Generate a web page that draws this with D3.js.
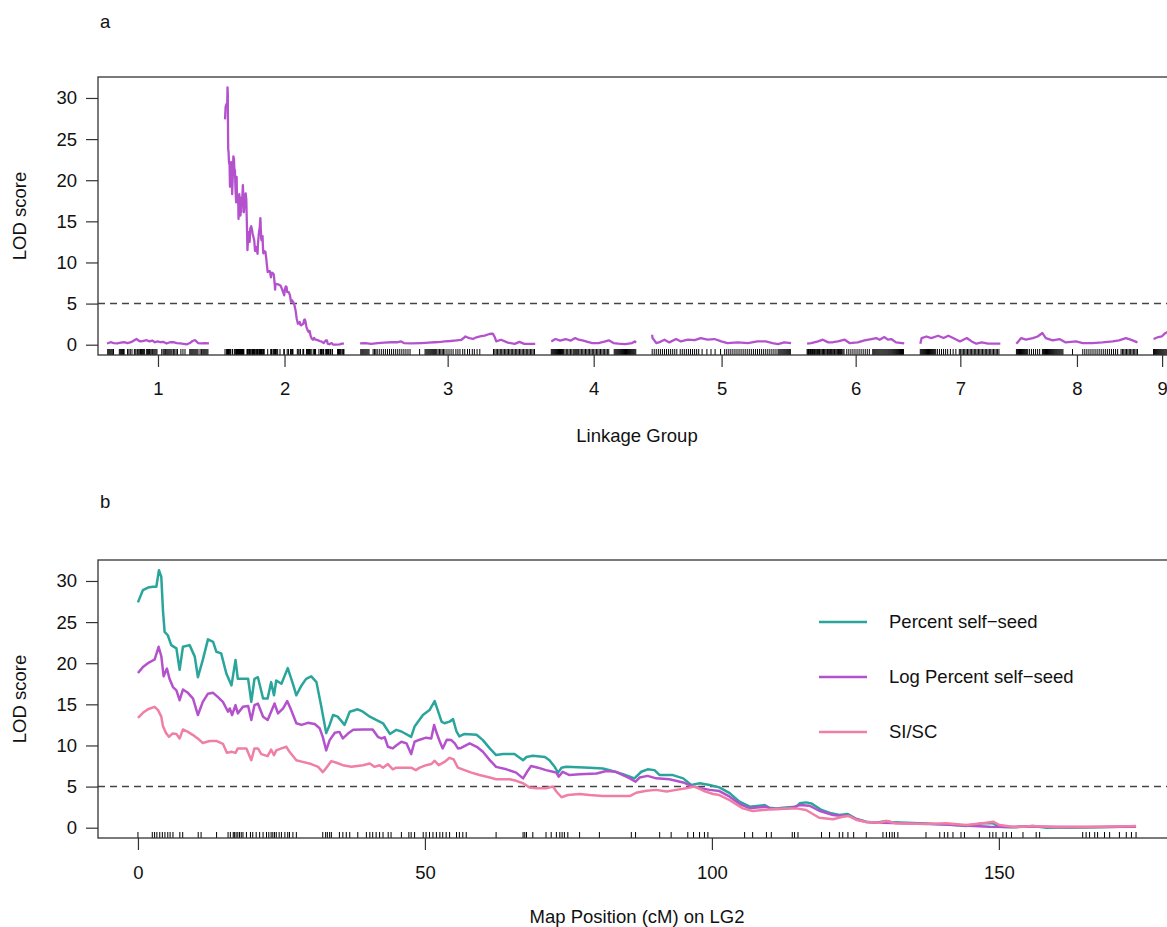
<!DOCTYPE html>
<html><head><meta charset="utf-8">
<script src="https://cdn.jsdelivr.net/npm/d3@7"></script>
<style>
body{margin:0;background:#fff}
text{font-family:"Liberation Sans",Arial,Helvetica,sans-serif;fill:#111}
</style>
</head><body>
<svg id="c" width="1167" height="927"></svg>
<script>
// ---------- DATA ----------
const chrNames = ["1","2","3","4","5","6","7","8","9"];
const chrLen = [149,174,256,124,203,142,117,177,25];
const chrGap = 23.5;
const yTicks = [0,5,10,15,20,25,30];
const xTicksB = [0,50,100,150];
const threshold = 5;
const seriesNames = ["Percent self\u2212seed","Log Percent self\u2212seed","SI/SC"];
const seriesColors = ["#2aa59b","#b452cd","#f07fa6"];

// LG2 scans (cM, LOD)
const selfSeed = [[0,27.4],[0.87,28.9],[1.74,29.2],[2.6,29.3],[3.2,29.3],[3.66,31.3],[4.07,30.5],[4.36,26.4],[4.65,23.8],[5.2,23.4],[5.8,22.2],[6.7,21.8],[7.26,19.2],[7.84,22.0],[9.0,22.2],[9.9,20.8],[10.45,18.3],[11.3,20.4],[12.2,22.9],[13.1,22.6],[13.65,21.4],[14.5,21.2],[15.4,18.75],[16.3,17.3],[17.0,20.4],[17.4,18.1],[19.2,18.1],[19.75,15.3],[20.3,18.1],[20.9,18.3],[21.8,15.7],[22.6,15.7],[23.2,17.7],[23.7,16.1],[24.1,17.9],[25.0,17.5],[26.1,19.4],[27.0,17.5],[27.6,16.1],[28.5,17.3],[29.3,18.1],[30.2,18.4],[31.1,17.7],[31.95,14.7],[32.8,11.5],[33.4,12.5],[34.0,13.7],[34.8,13.5],[36.0,12.5],[36.9,14.1],[38.3,14.4],[39.2,14.1],[40.4,13.5],[41.5,13.1],[42.7,12.7],[43.9,11.4],[45.0,11.9],[45.9,11.7],[47.6,11.05],[48.2,12.3],[49.65,13.7],[50.8,14.3],[51.7,15.4],[52.9,12.9],[53.4,12.7],[54.3,12.9],[54.9,13.2],[55.5,11.7],[56.0,11.1],[56.9,11.4],[59.0,11.3],[60.1,10.65],[61.3,9.64],[62.4,8.83],[63.6,8.95],[65.6,8.95],[67.1,8.2],[67.7,8.6],[68.8,8.75],[70.9,8.6],[71.7,8.2],[72.6,7.4],[73.2,6.7],[73.8,7.3],[74.6,7.4],[78.7,7.3],[81.0,7.2],[82.2,7.0],[84.5,6.5],[85.7,6.2],[86.5,6.0],[87.7,6.8],[88.8,7.1],[90.0,7.0],[90.9,6.4],[93.2,6.4],[95.0,6.0],[96.4,5.2],[97.9,5.4],[99.6,5.2],[101.3,4.9],[103.1,4.2],[104.8,3.16],[106.6,2.55],[109.2,2.75],[110.0,2.43],[111.2,2.35],[112.9,2.47],[114.7,2.55],[115.3,2.96],[116.4,3.08],[117.3,2.96],[119.1,2.15],[120.8,1.75],[122.2,1.54],[123.7,1.66],[125.2,1.06],[126.9,0.73],[128.6,0.6],[130.4,0.81],[131.5,0.65],[133.9,0.6],[136.2,0.53],[138.5,0.45],[140.8,0.41],[144.3,0.2],[147.2,0.53],[149,0.53],[150.1,0.12],[152.4,0.05],[155.9,0.2],[158.3,0.0],[161.7,0.0],[167.5,0.05],[171,0.12],[173.9,0.12]];

const logSelfSeed = [[0,18.8],[0.87,19.55],[1.74,20.0],[2.9,20.45],[3.6,22.0],[4.07,20.85],[4.48,18.4],[5.05,19.35],[5.5,18.1],[6.1,17.1],[6.7,16.7],[7.26,15.5],[7.84,16.8],[8.7,16.4],[9.6,15.7],[10.45,13.7],[11.3,15.3],[12.2,16.3],[13.1,16.4],[13.9,15.9],[14.8,15.3],[15.7,14.1],[16.0,14.5],[16.4,13.7],[17.0,14.9],[17.4,13.9],[18.3,14.7],[19.2,14.8],[19.75,13.1],[20.3,14.9],[20.9,15.1],[21.8,13.5],[22.6,13.1],[23.2,14.1],[23.8,15.1],[24.4,13.9],[25.3,14.5],[26.0,15.4],[26.7,14.3],[27.6,12.7],[28.5,12.5],[29.6,12.75],[30.8,12.6],[31.65,12.1],[32.2,11.05],[32.8,9.4],[33.4,10.65],[34.3,11.55],[35.1,11.65],[35.7,10.85],[36.6,11.45],[37.5,11.9],[39.2,11.95],[40.9,11.95],[41.8,11.05],[42.4,10.85],[43.0,11.0],[43.55,9.84],[44.4,9.64],[45.0,10.0],[45.9,10.45],[46.8,10.25],[47.6,8.95],[48.2,10.45],[49.1,10.7],[50.2,10.95],[51.1,10.85],[51.6,12.5],[52.0,11.6],[52.6,10.45],[53.1,9.64],[53.8,10.7],[54.6,10.65],[55.2,10.25],[55.75,9.64],[56.3,9.7],[57.8,10.25],[59.2,9.76],[60.1,9.23],[61.3,8.22],[62.4,7.4],[64.2,7.1],[65.9,6.7],[67.1,6.0],[67.8,6.8],[68.5,7.5],[69.7,7.3],[71.1,7.0],[72.3,6.8],[72.9,6.7],[73.3,6.2],[74.0,6.8],[75.2,6.4],[76.95,6.5],[79.9,6.6],[81.6,6.9],[83.3,6.8],[84.5,6.4],[85.7,6.0],[86.7,5.6],[87.4,6.1],[88.8,6.3],[90.3,6.0],[92.6,5.9],[95.0,5.5],[96.7,5.0],[98.5,4.75],[99.6,4.6],[101.3,4.45],[103.1,3.77],[104.8,2.9],[106.6,2.35],[107.8,2.45],[109.5,2.55],[110.35,2.27],[111.8,2.27],[113.5,2.35],[115.3,2.75],[117.0,2.67],[118.7,2.06],[121.1,1.54],[122.8,1.42],[123.7,1.5],[125.2,1.02],[126.9,0.69],[129.8,0.6],[133,0.55],[138.5,0.45],[143,0.3],[148.4,0.12],[152,0.1],[158,0.12],[165,0.1],[173.9,0.12]];

const siSc = [[0,13.36],[0.87,13.97],[1.74,14.4],[2.9,14.7],[3.5,14.3],[4.07,13.5],[4.36,12.35],[4.9,11.5],[5.4,11.05],[6.0,11.45],[6.7,11.4],[7.26,10.85],[7.84,11.95],[8.7,11.65],[9.6,11.26],[10.75,10.65],[11.3,10.3],[12.5,10.55],[13.65,10.55],[14.8,10.2],[15.5,9.1],[16.3,9.23],[17.0,9.1],[17.4,9.64],[18.9,9.64],[19.75,8.2],[20.3,9.64],[20.9,9.64],[21.5,8.95],[22.6,8.7],[23.2,9.5],[23.7,8.83],[24.1,9.4],[25.0,9.64],[25.85,9.84],[26.4,9.23],[27.6,8.2],[28.7,8.0],[30.2,7.74],[31.4,7.4],[32.2,6.76],[32.5,7.0],[33.7,8.1],[34.6,7.9],[35.7,7.6],[37.2,7.4],[39.2,7.6],[40.4,7.8],[41.2,7.4],[42.1,7.6],[42.7,7.3],[43.55,7.74],[44.4,7.1],[45.0,7.3],[46.5,7.3],[47.6,7.3],[48.4,7.0],[49.1,7.3],[50.2,7.6],[51.1,7.74],[51.7,8.14],[52.4,7.6],[53.4,8.0],[54.3,8.5],[55.0,8.3],[55.75,7.3],[56.9,7.0],[58.1,6.7],[59.5,6.4],[61.3,6.1],[62.4,5.9],[64.8,5.9],[65.9,5.7],[67.1,5.4],[68.2,4.9],[69.4,4.8],[71.1,4.8],[72.3,5.0],[72.9,4.4],[73.8,3.7],[74.9,3.97],[76.95,4.1],[78.7,3.97],[81.0,3.85],[85.7,3.85],[86.8,4.25],[88.6,4.5],[90.3,4.6],[92.1,4.4],[93.8,4.6],[95.5,4.8],[97.0,5.0],[98.5,4.5],[100.2,4.1],[101.3,3.97],[103.1,3.36],[105.4,2.35],[107.1,2.03],[108.9,2.15],[110.6,2.23],[112.9,2.35],[114.7,2.35],[116.4,2.15],[118.7,1.21],[121.1,1.02],[122.8,1.34],[123.9,1.42],[125.2,0.94],[126.9,0.69],[129.2,0.6],[130.4,0.81],[132,0.55],[137.3,0.45],[140.8,0.53],[144.3,0.33],[147.2,0.53],[149,0.73],[150.1,0.33],[153,0.05],[155.9,0.2],[160,0.05],[167.5,0.12],[171,0.15],[173.9,0.2]];

// genome scan (panel a), other linkage groups (cM, LOD)
const lg1Lod = [[0,0.15],[5,0.3],[10,0.2],[15,0.15],[20,0.25],[25,0.3],[30,0.2],[35,0.3],[40,0.55],[43,0.7],[47,0.45],[50,0.4],[55,0.5],[58,0.55],[62,0.4],[66,0.5],[70,0.3],[74,0.4],[78,0.3],[82,0.35],[87,0.15],[92,0.3],[97,0.3],[102,0.2],[107,0.15],[112,0.1],[117,0.05],[121,0.2],[125,0.45],[129,0.55],[133,0.2],[138,0.15],[143,0.2],[149,0.15]];
const lg3Lod = [[0,0.15],[8,0.2],[16,0.1],[26,0.2],[35,0.25],[46,0.3],[55,0.3],[60,0.4],[64,0.2],[75,0.15],[90,0.2],[100,0.25],[109,0.3],[118,0.35],[124,0.4],[132,0.45],[138,0.5],[148,0.6],[152,0.85],[154,1.0],[158,0.85],[160,0.8],[165,0.7],[170,0.9],[177,1.05],[182,1.1],[189,1.3],[194,1.35],[197,0.9],[199,0.4],[206,0.6],[216,0.25],[226,0.1],[233,0.35],[240,0.1],[256,0.1]];
const lg4Lod = [[0,0.4],[6,0.69],[13,0.49],[21,0.69],[28,0.49],[35,0.81],[40,0.61],[47,0.49],[53,0.35],[60,0.2],[69,0.2],[79,0.4],[84,0.53],[91,0.2],[98,0.12],[108,0.08],[118,0.2],[122,0.4],[124,0.25]];
const lg5Lod = [[0,1.21],[0.5,0.81],[6,0.2],[12,0.35],[18,0.61],[25,0.28],[35,0.69],[42,0.4],[52,0.61],[62,0.55],[71,0.81],[81,0.61],[91,0.69],[101,0.4],[110,0.2],[125,0.28],[140,0.2],[154,0.4],[166,0.4],[176,0.2],[184,0.08],[193,0.28],[203,0.2]];
const lg6Lod = [[0,0.12],[6,0.2],[16,0.4],[23,0.61],[31,0.28],[38,0.3],[45,0.4],[55,0.61],[62,0.2],[74,0.28],[84,0.53],[94,0.69],[101,0.81],[106,0.6],[113,0.93],[118,0.61],[123,0.69],[130,0.28],[139,0.2],[142,0.15]];
const lg7Lod = [[0,0.12],[2,0.81],[9,1.0],[16,0.81],[26,1.09],[34,0.81],[41,1.09],[48,0.81],[58,0.4],[68,0.81],[75,0.4],[82,0.12],[90,0.28],[99,0.12],[117,0.12]];
const lg8Lod = [[0,0.12],[7,0.81],[14,0.61],[24,0.81],[31,1.0],[38,1.42],[43,0.81],[53,0.53],[63,0.69],[72,0.28],[87,0.4],[97,0.2],[111,0.2],[126,0.28],[141,0.4],[150,0.53],[160,0.81],[167,0.61],[177,0.28]];
const lg9Lod = [[0,0.7],[7,0.93],[12,1.0],[17,1.4],[22,1.6],[25,1.5]];

// marker positions (cM)
const lg1Mk = [1,2.5,4,5.5,7,8.5,9.5,18,19.5,21,22.5,24,25,30,32,34,36.5,40,42,44,45,46.5,48,49,50.5,52,53.5,55,58,59,60.5,62,63,64.5,66,67,68.5,70,71.5,73,80,82,83.5,85,86,87.5,89,90.5,92,93.5,95,97,99,101,103,108,111,114,121,122.5,124,125.5,127,128.5,130,131.5,133,136,138,140,141.5,143,144.5,146,147.5];
const lg2Mk = [0,2.5,2.9,3.3,3.8,4.25,4.7,5.2,5.6,6.1,7.3,7.8,10.5,11.0,13.7,15.7,16.1,16.6,16.8,17.1,17.4,17.7,18.0,18.3,18.9,19.6,20.0,20.6,21.2,21.8,22.4,22.8,23.2,23.5,23.8,24.1,24.6,25.0,25.6,26.1,26.4,27.0,27.6,32.2,32.7,33.0,33.4,33.7,35.1,35.7,36.3,36.9,38.3,39.8,40.4,40.9,41.5,42.1,42.7,43.6,44.1,45.9,47.2,47.6,48.2,49.7,50.2,50.8,51.4,52.0,52.6,53.1,53.7,54.3,55.5,56.0,56.6,57.2,62.4,67.1,67.4,67.7,68.8,71.1,72.0,72.9,73.5,73.9,74.3,74.9,76.95,80.4,85.96,86.7,90.9,92.9,95.8,96.8,97.85,98.7,99.3,105.7,107.1,109.5,110.35,114.0,114.4,115.0,119.1,120.5,122.2,122.8,123.7,124.7,126.9,129.8,130.4,130.95,131.4,131.8,132.4,137.3,139.7,140.5,141.1,142.0,143.4,144.0,146.6,148.4,148.95,149.5,150.7,151.3,152.2,154.2,156.5,157.1,164.6,165.2,165.8,166.7,167.2,168.4,169.3,171.0,172.2,173.1,173.9];
const lg3Mk = [1,2.5,4,5.5,7,8.5,10,11.5,13,19,21,23,25,28,31,34,37,40,43,46,49,52,55,58,61,64,67,70,73,87,95,96.5,98,99.5,101,102.5,104,105.5,107,108.5,110,112,114,116,118,120,122,124,127,130,133,136,140,143,146,150,153,157,160,164,167,171,175,195,197,199,201,203,205,207,209,211,213,215,217,219,221,223,225,227,229,231,233,235,237,239,241,243,245,247,249,251,253,255];
const lg4Mk = [0,1.5,3,4.5,6,7.5,9,10.5,12,13.5,15,16.5,18,20,22,24,26,28,30,32,33.5,35,36.5,38,40,42,44,46,48,50,52,54,56,58,60,62,64,66,68,70,72,74,76,78,80,82,84,92,93.5,95,96.5,98,99.5,101,102.5,104,105.5,107,108.5,110,111.5,113,114.5,116,117.5,119,120.5,122,123.5];
const lg5Mk = [0,3,6,9,12,15,18,21,24,27,30,33,36,41,44,47,50,53,56,59,62,65,68,73,80,86,92,100,106,109,112,115,118,121,124,127,130,133,136,139,142,145,148,151,154,157,160,163,166,169,172,175,178,181,184,185.5,187,188.5,190,191.5,193,194.5,196,197.5,199,200.5,202];
const lg6Mk = [0,1,2,3,4,5,6,7,8,9,10,11,12,13.5,15,16,17,18,19,20.5,22,23,24,25,26,27.5,29,30,31,32.5,34,35,36,37.5,39,40,41,42.5,44,45,46,47.5,49,50,51,52.5,54,58,61,64,67,70,73,76,79,82,85,88,91,96,97.5,99,100.5,102,103.5,105,106.5,108,109.5,111,112.5,114,115.5,117,118.5,120,121.5,123,124.5,126,127.5,129,130.5,132,133.5,135,136.5,138,139.5,141];
const lg7Mk = [0,1.5,3,4.5,6,7.5,9,10.5,12,13.5,15,16.5,18,19.5,21,22.5,25,28,31,34,37,40,44,48,52,57,59,61,63,65,67,69,71,73,75,77,79,81,83,85,87,89,91,93,95,97,99,101,103,105,107,109,111,113,115];
const lg8Mk = [0,1.5,3,4.5,6,7.5,9,10.5,12,13.5,15,16.5,19,22,25,28,31,34,38,39.5,41,42.5,44,45.5,47,48.5,50,51.5,53,54.5,56,57.5,59,60.5,62,63.5,65,66.5,68,82,97,100,103,106,109,112,115,118,121,124,127,130,133,136,139,142,145,148,153,155,157,159,161,163,165,167,169,171,173,175,177];
const lg9Mk = [0,1.5,3,4.5,6,7.5,9,10.5,12,13.5,15,16.5,18,19.5,21,22.5,24];

const genomeLod = [lg1Lod, selfSeed, lg3Lod, lg4Lod, lg5Lod, lg6Lod, lg7Lod, lg8Lod, lg9Lod];
const genomeMk = [lg1Mk, lg2Mk, lg3Mk, lg4Mk, lg5Mk, lg6Mk, lg7Mk, lg8Mk, lg9Mk];
const lg2Series = [selfSeed, logSelfSeed, siSc];

// ---------- DRAW ----------
const svg = d3.select("#c");
const FS = 18.5;
const ink = "#333";
const yDom = [-1.252, 32.55];

function yAxis(g, y) {
  g.call(d3.axisLeft(y).tickValues(yTicks).tickSize(12).tickPadding(9))
   .call(s => s.select(".domain").remove())
   .call(s => s.selectAll("line").attr("stroke", ink).attr("stroke-width", 1.2))
   .call(s => s.selectAll("text").attr("font-size", FS).attr("fill", "#111")
      .attr("font-family", '"Liberation Sans",Arial,sans-serif'));
}

// ===== Panel a =====
const A = {top: 77, bottom: 355, left: 98, right: 1176};
const starts = [];
{ let c = 0; chrLen.forEach(L => { starts.push(c); c += L + chrGap; }); }
const xA = d3.scaleLinear().domain([-13.2, 1000]).range([98, 98 + 1013.2 * 0.684]);
const yA = d3.scaleLinear().domain(yDom).range([A.bottom, A.top]);

const gA = svg.append("g");
gA.append("text").attr("x", 100).attr("y", 22).attr("dy", "0.35em").attr("font-size", FS).text("a");

// threshold
gA.append("line").attr("x1", A.left).attr("x2", A.right)
  .attr("y1", yA(threshold)).attr("y2", yA(threshold))
  .attr("stroke", "#444").attr("stroke-width", 1.5).attr("stroke-dasharray", "7,5");

// rug markers
genomeMk.forEach((mk, i) => {
  gA.append("g").selectAll("line").data(mk).join("line")
    .attr("x1", d => xA(starts[i] + d)).attr("x2", d => xA(starts[i] + d))
    .attr("y1", A.bottom).attr("y2", A.bottom - 6)
    .attr("stroke", "#000").attr("stroke-width", 1);
});

// LOD curves
const lineA = (i) => d3.line().x(d => xA(starts[i] + d[0])).y(d => yA(d[1]));
genomeLod.forEach((dat, i) => {
  gA.append("path").datum(dat).attr("d", lineA(i))
    .attr("fill", "none").attr("stroke", seriesColors[1]).attr("stroke-width", 2.3)
    .attr("stroke-linejoin", "round");
});

// box
gA.append("rect").attr("x", A.left).attr("y", A.top)
  .attr("width", A.right - A.left).attr("height", A.bottom - A.top)
  .attr("fill", "none").attr("stroke", ink).attr("stroke-width", 1.3);

gA.append("g").attr("transform", `translate(${A.left},0)`).call(g => yAxis(g, yA));

// chromosome axis
const mids = chrLen.map((L, i) => starts[i] + L / 2);
gA.append("g").attr("transform", `translate(0,${A.bottom})`)
  .call(d3.axisBottom(xA).tickValues(mids).tickFormat((d, i) => chrNames[i]).tickSize(12).tickPadding(15))
  .call(s => s.select(".domain").remove())
  .call(s => s.selectAll("line").attr("stroke", ink).attr("stroke-width", 1.2))
  .call(s => s.selectAll("text").attr("font-size", FS).attr("fill", "#111")
     .attr("font-family", '"Liberation Sans",Arial,sans-serif'));

gA.append("text").attr("x", 637).attr("y", 436).attr("dy", "0.35em")
  .attr("text-anchor", "middle").attr("font-size", FS).text("Linkage Group");
gA.append("text").attr("transform", `translate(20,${(A.top + A.bottom) / 2}) rotate(-90)`)
  .attr("dy", "0.35em").attr("text-anchor", "middle").attr("font-size", FS).text("LOD score");

// ===== Panel b =====
const B = {top: 560, bottom: 838, left: 98, right: 1176};
const xB = d3.scaleLinear().domain([-6.96, 180.86]).range([B.left, B.right]);
const yB = d3.scaleLinear().domain(yDom).range([B.bottom, B.top]);
const gB = svg.append("g");
gB.append("text").attr("x", 100).attr("y", 502).attr("dy", "0.35em").attr("font-size", FS).text("b");

gB.append("line").attr("x1", B.left).attr("x2", B.right)
  .attr("y1", yB(threshold)).attr("y2", yB(threshold))
  .attr("stroke", "#444").attr("stroke-width", 1.5).attr("stroke-dasharray", "7,5");

gB.append("g").selectAll("line").data(lg2Mk).join("line")
  .attr("x1", d => xB(d)).attr("x2", d => xB(d))
  .attr("y1", B.bottom).attr("y2", B.bottom - 6)
  .attr("stroke", "#000").attr("stroke-width", 1);

const lineB = d3.line().x(d => xB(d[0])).y(d => yB(d[1]));
lg2Series.forEach((dat, i) => {
  gB.append("path").datum(dat).attr("d", lineB)
    .attr("fill", "none").attr("stroke", seriesColors[i]).attr("stroke-width", 2.5)
    .attr("stroke-linejoin", "round");
});

gB.append("rect").attr("x", B.left).attr("y", B.top)
  .attr("width", B.right - B.left).attr("height", B.bottom - B.top)
  .attr("fill", "none").attr("stroke", ink).attr("stroke-width", 1.3);

gB.append("g").attr("transform", `translate(${B.left},0)`).call(g => yAxis(g, yB));

gB.append("g").attr("transform", `translate(0,${B.bottom})`)
  .call(d3.axisBottom(xB).tickValues(xTicksB).tickFormat(d3.format("d")).tickSize(12).tickPadding(16))
  .call(s => s.select(".domain").remove())
  .call(s => s.selectAll("line").attr("stroke", ink).attr("stroke-width", 1.2))
  .call(s => s.selectAll("text").attr("font-size", FS).attr("fill", "#111")
     .attr("font-family", '"Liberation Sans",Arial,sans-serif'));

gB.append("text").attr("x", 637).attr("y", 917).attr("dy", "0.35em")
  .attr("text-anchor", "middle").attr("font-size", FS).text("Map Position (cM) on LG2");
gB.append("text").attr("transform", `translate(20,${(B.top + B.bottom) / 2}) rotate(-90)`)
  .attr("dy", "0.35em").attr("text-anchor", "middle").attr("font-size", FS).text("LOD score");

// legend
const leg = gB.append("g");
seriesNames.forEach((name, i) => {
  const y = 622 + i * 55;
  leg.append("line").attr("x1", 819).attr("x2", 867).attr("y1", y).attr("y2", y)
    .attr("stroke", seriesColors[i]).attr("stroke-width", 2.5);
  leg.append("text").attr("x", 889).attr("y", y).attr("dy", "0.35em")
    .attr("font-size", FS).text(name);
});
</script>
</body></html>
